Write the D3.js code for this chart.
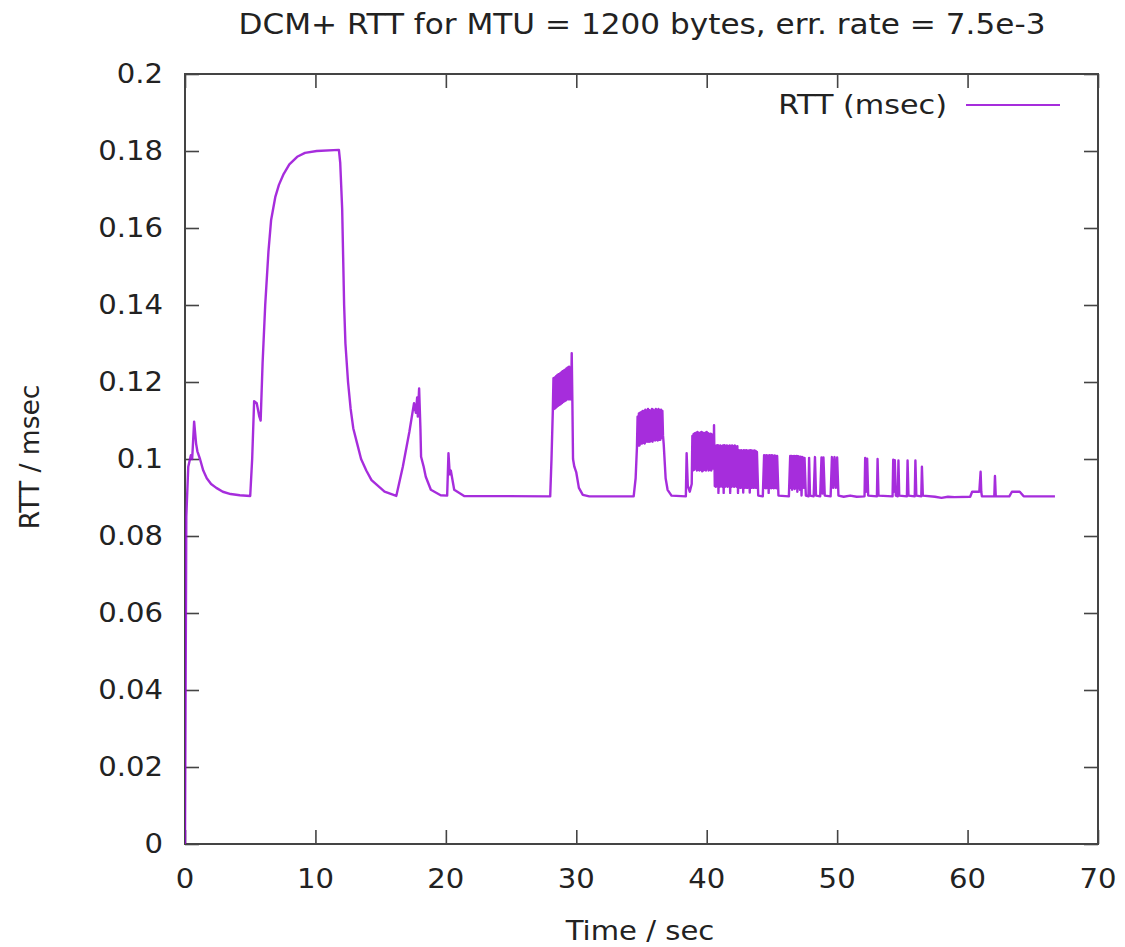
<!DOCTYPE html>
<html>
<head>
<meta charset="utf-8">
<script src="https://cdn.jsdelivr.net/npm/d3@7"></script>
<style>
  body { margin: 0; background: #fff; }
  text { font-family: "DejaVu Sans", sans-serif; fill: #222; }
</style>
</head>
<body>
<div id="chart"></div>
<script>
// tick values and labels
const xTicks = [0, 10, 20, 30, 40, 50, 60, 70];
const yTicks = [0, 0.02, 0.04, 0.06, 0.08, 0.1, 0.12, 0.14, 0.16, 0.18, 0.2];
const yTickLabels = ["0", "0.02", "0.04", "0.06", "0.08", "0.1", "0.12", "0.14", "0.16", "0.18", "0.2"];

const title = "DCM+ RTT for MTU = 1200 bytes, err. rate = 7.5e-3";
const seriesName = "RTT (msec)";

// [time sec, rtt msec]
const startupRtt = [
  [0, 0.0], [0.1, 0.085], [0.25, 0.098], [0.45, 0.101], [0.55, 0.1], [0.7, 0.1097],
  [0.85, 0.104], [0.95, 0.102], [1.15, 0.1], [1.4, 0.097], [1.67, 0.095], [2.0, 0.0935],
  [2.4, 0.0925], [2.9, 0.0915], [3.5, 0.0909], [4.2, 0.0906], [5.0, 0.0904],
  [5.15, 0.1], [5.3, 0.115], [5.5, 0.1145], [5.7, 0.111], [5.8, 0.11], [5.95, 0.125],
  [6.15, 0.14], [6.4, 0.154], [6.6, 0.162], [6.92, 0.168], [7.2, 0.1712], [7.56, 0.174],
  [8.0, 0.1765], [8.6, 0.1785], [9.2, 0.1795], [10.1, 0.18], [11.8, 0.1803], [11.9, 0.177],
  [12.05, 0.165], [12.2, 0.14], [12.3, 0.13], [12.5, 0.12], [12.7, 0.113], [12.9, 0.108],
  [13.2, 0.104], [13.5, 0.1], [13.9, 0.097], [14.3, 0.0945], [14.8, 0.093], [15.3, 0.0915],
  [16.2, 0.0904],
  [16.7, 0.098], [17.2, 0.107], [17.56, 0.1145], [17.7, 0.112], [17.8, 0.116], [17.85, 0.111],
  [17.95, 0.1183], [18.05, 0.108], [18.1, 0.1006], [18.3, 0.098], [18.46, 0.0954],
  [18.85, 0.092], [19.6, 0.0906], [20.1, 0.0905], [20.2, 0.1015], [20.3, 0.096],
  [20.38, 0.097], [20.64, 0.092], [21.4, 0.0904], [28.0, 0.0903]
];

const burstRtt = [
  [28.1, 0.1], [28.2, 0.1125],
  [28.25, 0.121], [28.3, 0.113], [28.35, 0.1212], [28.4, 0.1132], [28.45, 0.1215], [28.5, 0.1135],
  [28.55, 0.1218], [28.6, 0.1138], [28.65, 0.122], [28.7, 0.114], [28.75, 0.1222], [28.8, 0.1142],
  [28.85, 0.1225], [28.9, 0.1145], [28.95, 0.1228], [29.0, 0.1148], [29.05, 0.123], [29.1, 0.115],
  [29.15, 0.1232], [29.2, 0.1152], [29.25, 0.1235], [29.3, 0.1155], [29.35, 0.1238], [29.4, 0.1155],
  [29.45, 0.124], [29.5, 0.1155], [29.55, 0.1238], [29.6, 0.1155], [29.65, 0.1275], [29.7, 0.115],
  [29.75, 0.1], [29.85, 0.098], [30.0, 0.0965], [30.2, 0.0925], [30.5, 0.0907], [31, 0.0903],
  [34.4, 0.0903], [34.55, 0.095], [34.65, 0.103],
  [34.7, 0.111], [34.75, 0.1035], [34.8, 0.1118], [34.85, 0.1035], [34.9, 0.112], [34.95, 0.104],
  [35.0, 0.1122], [35.05, 0.104], [35.1, 0.1125], [35.15, 0.1042], [35.2, 0.1125], [35.25, 0.104],
  [35.3, 0.1128], [35.35, 0.1045], [35.4, 0.1125], [35.45, 0.1045], [35.5, 0.113], [35.55, 0.1045],
  [35.6, 0.1127], [35.65, 0.1045], [35.7, 0.1125], [35.75, 0.1047], [35.8, 0.113], [35.85, 0.1045],
  [35.9, 0.1128], [35.95, 0.105], [36.0, 0.1125], [36.05, 0.1048], [36.1, 0.113], [36.15, 0.105],
  [36.2, 0.1127], [36.25, 0.1048], [36.3, 0.113], [36.35, 0.105], [36.4, 0.1126], [36.45, 0.105],
  [36.5, 0.1128], [36.55, 0.1055], [36.6, 0.1125], [36.65, 0.106], [36.7, 0.104],
  [36.85, 0.095], [37.0, 0.092], [37.3, 0.0905], [38.4, 0.0903], [38.46, 0.1015], [38.55, 0.093],
  [38.7, 0.0915], [38.85, 0.0935],
  [38.9, 0.106], [38.95, 0.097], [39.0, 0.1065], [39.05, 0.0972], [39.1, 0.1067], [39.15, 0.0975],
  [39.2, 0.1068], [39.25, 0.097], [39.3, 0.107], [39.35, 0.0972], [39.4, 0.1067], [39.45, 0.097],
  [39.5, 0.1068], [39.55, 0.0972], [39.6, 0.107], [39.65, 0.0968], [39.7, 0.1068], [39.75, 0.097],
  [39.8, 0.1067], [39.85, 0.0972], [39.9, 0.1068], [39.95, 0.097], [40.0, 0.107], [40.05, 0.0975],
  [40.1, 0.1067], [40.15, 0.097], [40.2, 0.1065], [40.25, 0.0972], [40.3, 0.1066], [40.35, 0.097],
  [40.4, 0.1064], [40.45, 0.0975], [40.5, 0.1062], [40.53, 0.0975], [40.56, 0.1088], [40.62, 0.093],
  [40.65, 0.1033], [40.7, 0.0928], [40.75, 0.1035], [40.8, 0.093], [40.85, 0.1036], [40.9, 0.0912],
  [40.95, 0.1034], [41.0, 0.0928], [41.05, 0.1035], [41.1, 0.093], [41.15, 0.1033], [41.2, 0.0928],
  [41.25, 0.1035], [41.3, 0.0912], [41.35, 0.1036], [41.4, 0.0928], [41.45, 0.1034], [41.5, 0.093],
  [41.55, 0.1035], [41.6, 0.0928], [41.65, 0.1033], [41.7, 0.093], [41.75, 0.1035], [41.8, 0.0912],
  [41.85, 0.1034], [41.9, 0.0928], [41.95, 0.1035], [42.0, 0.093], [42.05, 0.1033], [42.1, 0.0928],
  [42.15, 0.1035], [42.2, 0.093], [42.25, 0.1032], [42.3, 0.0928], [42.35, 0.1033], [42.4, 0.0912],
  [42.45, 0.1023], [42.5, 0.0926], [42.55, 0.1022], [42.6, 0.0925], [42.65, 0.1023], [42.7, 0.0926],
  [42.75, 0.1021], [42.8, 0.0913], [42.85, 0.1023], [42.9, 0.0925], [42.95, 0.1022], [43.0, 0.0926],
  [43.05, 0.1023], [43.1, 0.0925], [43.15, 0.1021], [43.2, 0.0926], [43.25, 0.1022], [43.3, 0.0913],
  [43.35, 0.1023], [43.4, 0.0925], [43.45, 0.1022], [43.5, 0.0926], [43.55, 0.1021], [43.6, 0.0925],
  [43.65, 0.1022], [43.7, 0.0926], [43.75, 0.1021], [43.8, 0.0925], [43.85, 0.1018], [43.95, 0.0905],
  [44.3, 0.0903],
  [44.4, 0.101], [44.45, 0.0925], [44.5, 0.1009], [44.55, 0.0924], [44.6, 0.101], [44.65, 0.0925],
  [44.7, 0.1008], [44.75, 0.0912], [44.8, 0.101], [44.85, 0.0925], [44.9, 0.1009], [44.95, 0.0924],
  [45.0, 0.101], [45.05, 0.0925], [45.1, 0.1008], [45.15, 0.0924], [45.2, 0.1009], [45.25, 0.0925],
  [45.3, 0.1008], [45.35, 0.0924], [45.4, 0.1008], [45.5, 0.0905], [46.3, 0.0903],
  [46.4, 0.1008], [46.45, 0.0925], [46.5, 0.1008], [46.55, 0.092], [46.6, 0.1007], [46.65, 0.0925],
  [46.7, 0.1008], [46.75, 0.0922], [46.8, 0.1007], [46.85, 0.0925], [46.9, 0.1008], [46.95, 0.0915],
  [47.0, 0.1007], [47.05, 0.0925], [47.1, 0.1006], [47.15, 0.092], [47.2, 0.1006], [47.27, 0.0905],
  [47.35, 0.1005], [47.45, 0.0925], [47.5, 0.1003], [47.6, 0.0905]
];

const tailRtt = [
  [47.8, 0.0903], [47.85, 0.1003], [47.92, 0.0905], [48.2, 0.0903], [48.3, 0.1005], [48.38, 0.0905],
  [48.7, 0.0903], [48.8, 0.1004], [48.88, 0.091], [48.95, 0.1004], [49.05, 0.0905], [49.5, 0.0903],
  [49.6, 0.1005], [49.7, 0.0925], [49.8, 0.1005], [49.9, 0.0925], [50.0, 0.1004], [50.1, 0.0905],
  [50.5, 0.0902], [51.0, 0.0905], [51.5, 0.0902], [52.1, 0.0903], [52.15, 0.1003], [52.22, 0.0915],
  [52.3, 0.1001], [52.38, 0.0905], [53.05, 0.0903], [53.1, 0.1], [53.17, 0.0905], [54.25, 0.0903],
  [54.3, 0.0998], [54.36, 0.0915], [54.42, 0.0997], [54.5, 0.0905], [54.65, 0.0903], [54.7, 0.0996],
  [54.76, 0.0905], [55.35, 0.0903], [55.4, 0.0996], [55.47, 0.0905], [55.95, 0.0903], [56.0, 0.0996],
  [56.07, 0.0905], [56.45, 0.0903], [56.5, 0.098], [56.57, 0.0905], [57.5, 0.0902], [58.0, 0.0899],
  [58.5, 0.0902], [59.0, 0.0901], [60.2, 0.0902], [60.35, 0.0915], [60.9, 0.0915], [61.0, 0.0967],
  [61.05, 0.0915], [61.1, 0.0903], [62.05, 0.0903], [62.1, 0.0956], [62.16, 0.0903], [63.2, 0.0903],
  [63.4, 0.0915], [64.0, 0.0915], [64.3, 0.0903], [66.7, 0.0903]
];

const rttPoints = startupRtt.concat(burstRtt, tailRtt);

const width = 1125, height = 947;
const margin = { top: 74, right: 27, bottom: 103, left: 185 };
const sx = 1.12; // the picture is stretched sideways a little

const svg = d3.select("#chart")
  .append("svg")
  .attr("width", width)
  .attr("height", height);

const x = d3.scaleLinear()
  .domain([0, 70])
  .range([margin.left, width - margin.right]);

const y = d3.scaleLinear()
  .domain([0, 0.2])
  .range([height - margin.bottom, margin.top]);

const axisColor = "#444";
const tickLen = 14;
const lineColor = "#9608d6";

// inward ticks, mirrored on all four sides
svg.append("g")
  .attr("transform", `translate(0,${y(0)})`)
  .call(d3.axisBottom(x).tickValues(xTicks).tickSize(-tickLen).tickFormat(""));
svg.append("g")
  .attr("transform", `translate(0,${y(0.2)})`)
  .call(d3.axisTop(x).tickValues(xTicks).tickSize(-tickLen).tickFormat(""));
svg.append("g")
  .attr("transform", `translate(${x(0)},0)`)
  .call(d3.axisLeft(y).tickValues(yTicks).tickSize(-tickLen).tickFormat(""));
svg.append("g")
  .attr("transform", `translate(${x(70)},0)`)
  .call(d3.axisRight(y).tickValues(yTicks).tickSize(-tickLen).tickFormat(""));

svg.selectAll(".domain").remove();
svg.selectAll(".tick line").attr("stroke", axisColor).attr("stroke-width", 1.6);

svg.append("rect")
  .attr("x", x(0)).attr("y", y(0.2))
  .attr("width", x(70) - x(0)).attr("height", y(0) - y(0.2))
  .attr("fill", "none")
  .attr("stroke", axisColor)
  .attr("stroke-width", 2);

// tick labels
svg.selectAll(".xlab")
  .data(xTicks)
  .enter()
  .append("text")
  .attr("transform", d => `translate(${x(d)},888) scale(${sx},1)`)
  .attr("text-anchor", "middle")
  .attr("font-size", 26)
  .text(d => d);

svg.selectAll(".ylab")
  .data(yTicks)
  .enter()
  .append("text")
  .attr("transform", d => `translate(163,${y(d) + 9}) scale(${sx},1)`)
  .attr("text-anchor", "end")
  .attr("font-size", 26)
  .text((d, i) => yTickLabels[i]);

// title and axis labels
svg.append("text")
  .attr("transform", `translate(642,34) scale(${sx},1)`)
  .attr("text-anchor", "middle")
  .attr("font-size", 27.8)
  .text(title);

svg.append("text")
  .attr("transform", `translate(640,940) scale(${sx},1)`)
  .attr("text-anchor", "middle")
  .attr("font-size", 26)
  .text("Time / sec");

svg.append("text")
  .attr("transform", `translate(39,457) rotate(-90)`)
  .attr("text-anchor", "middle")
  .attr("font-size", 26.5)
  .text("RTT / msec");

// data line
svg.append("clipPath").attr("id", "plot")
  .append("rect")
  .attr("x", x(0)).attr("y", y(0.2))
  .attr("width", x(70) - x(0)).attr("height", y(0) - y(0.2));

const line = d3.line()
  .x(d => x(d[0]))
  .y(d => y(d[1]));

svg.append("path")
  .datum(rttPoints)
  .attr("clip-path", "url(#plot)")
  .attr("fill", "none")
  .attr("stroke", lineColor)
  .attr("stroke-opacity", 0.85)
  .attr("stroke-width", 2.4)
  .attr("stroke-linejoin", "round")
  .attr("d", line);

// legend
svg.append("text")
  .attr("transform", `translate(947,114) scale(${sx},1)`)
  .attr("text-anchor", "end")
  .attr("font-size", 27)
  .text(seriesName);

svg.append("line")
  .attr("x1", 966).attr("x2", 1060)
  .attr("y1", 105).attr("y2", 105)
  .attr("stroke", lineColor)
  .attr("stroke-opacity", 0.85)
  .attr("stroke-width", 2);
</script>
</body>
</html>
